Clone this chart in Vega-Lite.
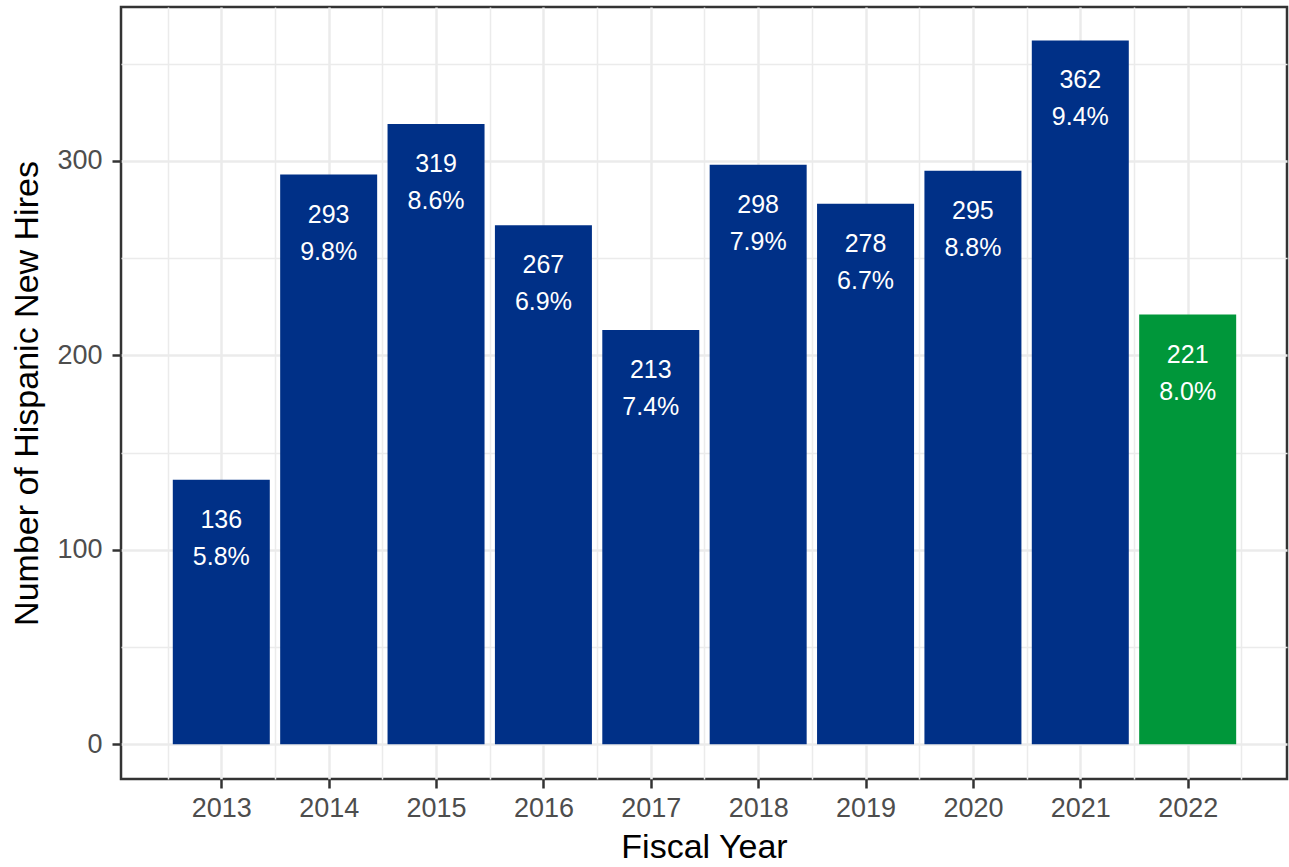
{
  "$schema": "https://vega.github.io/schema/vega-lite/v6.json",
  "width": 1166,
  "height": 772,
  "autosize": {"type": "none"},
  "padding": {"left": 121, "top": 7, "right": 2, "bottom": 88},
  "background": "white",
  "config": {
    "font": "Liberation Sans",
    "view": {"stroke": "#333333", "strokeWidth": 2.5}
  },
  "data": {
    "values": [
      {"year": 2013, "hires": 136, "pct": 0.058, "period": "Prior"},
      {"year": 2014, "hires": 293, "pct": 0.098, "period": "Prior"},
      {"year": 2015, "hires": 319, "pct": 0.086, "period": "Prior"},
      {"year": 2016, "hires": 267, "pct": 0.069, "period": "Prior"},
      {"year": 2017, "hires": 213, "pct": 0.074, "period": "Prior"},
      {"year": 2018, "hires": 298, "pct": 0.079, "period": "Prior"},
      {"year": 2019, "hires": 278, "pct": 0.067, "period": "Prior"},
      {"year": 2020, "hires": 295, "pct": 0.088, "period": "Prior"},
      {"year": 2021, "hires": 362, "pct": 0.094, "period": "Prior"},
      {"year": 2022, "hires": 221, "pct": 0.080, "period": "Current"}
    ]
  },
  "encoding": {
    "x": {
      "field": "year",
      "type": "quantitative",
      "scale": {"domain": [2012.066, 2022.925], "nice": false, "zero": false, "padding": 0},
      "axis": {
        "title": "Fiscal Year",
        "values": [2012.5, 2013, 2013.5, 2014, 2014.5, 2015, 2015.5, 2016, 2016.5, 2017, 2017.5, 2018, 2018.5, 2019, 2019.5, 2020, 2020.5, 2021, 2021.5, 2022, 2022.5],
        "labelExpr": "datum.value % 1 === 0 ? format(datum.value, 'd') : ''",
        "labelOverlap": false,
        "labelFontSize": 27,
        "labelColor": "#4D4D4D",
        "labelPadding": 7,
        "labelFlush": false,
        "domain": false,
        "tickSize": 9,
        "tickColor": "#333333",
        "tickWidth": 2.5,
        "tickOpacity": {"condition": {"test": "datum.value % 1 !== 0", "value": 0}, "value": 1},
        "grid": true,
        "gridColor": "#EBEBEB",
        "gridWidth": {"condition": {"test": "datum.value % 1 !== 0", "value": 1.5}, "value": 2.5},
        "titleFontSize": 34,
        "titleFontWeight": "normal",
        "titleColor": "#000000",
        "titleBaseline": "alphabetic",
        "titleY": 78
      }
    },
    "y": {
      "field": "hires",
      "type": "quantitative",
      "scale": {"domain": [-17.9, 379.2], "nice": false, "zero": false, "padding": 0},
      "axis": {
        "title": "Number of Hispanic New Hires",
        "values": [0, 50, 100, 150, 200, 250, 300, 350],
        "labelExpr": "datum.value % 100 === 0 ? format(datum.value, 'd') : ''",
        "labelOverlap": false,
        "labelFontSize": 27,
        "labelColor": "#4D4D4D",
        "labelPadding": 10,
        "labelFlush": false,
        "domain": false,
        "tickSize": 9,
        "tickColor": "#333333",
        "tickWidth": 2.5,
        "tickOpacity": {"condition": {"test": "datum.value % 100 !== 0", "value": 0}, "value": 1},
        "grid": true,
        "gridColor": "#EBEBEB",
        "gridWidth": {"condition": {"test": "datum.value % 100 !== 0", "value": 1.5}, "value": 2.5},
        "titleFontSize": 34,
        "titleFontWeight": "normal",
        "titleColor": "#000000",
        "titleBaseline": "alphabetic",
        "titleAngle": 270,
        "titleX": -83.5
      }
    }
  },
  "layer": [
    {
      "mark": {"type": "bar", "size": 97},
      "encoding": {
        "color": {
          "field": "period",
          "type": "nominal",
          "scale": {"domain": ["Prior", "Current"], "range": ["#003087", "#00973A"]},
          "legend": null
        }
      }
    },
    {
      "mark": {"type": "text", "color": "white", "fontSize": 25, "baseline": "alphabetic", "align": "center", "dy": 48},
      "encoding": {"text": {"field": "hires", "type": "quantitative", "format": "d"}}
    },
    {
      "mark": {"type": "text", "color": "white", "fontSize": 25, "baseline": "alphabetic", "align": "center", "dy": 85},
      "encoding": {"text": {"field": "pct", "type": "quantitative", "format": ".1%"}}
    }
  ]
}
